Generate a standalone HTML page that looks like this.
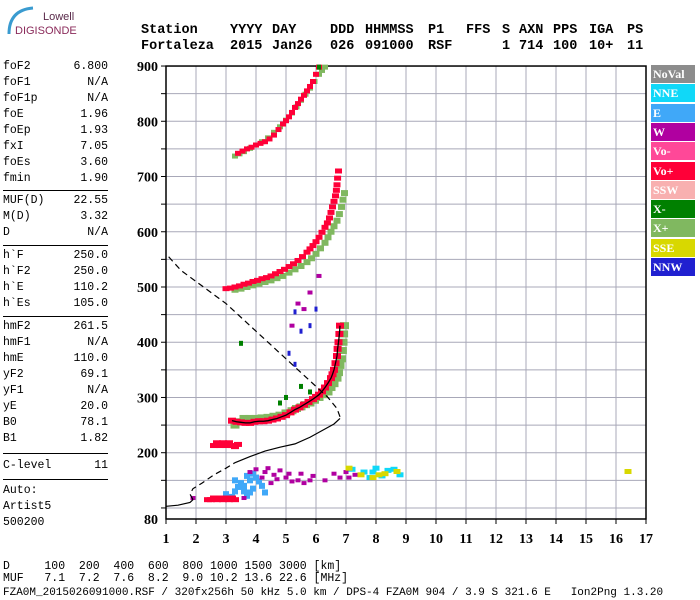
<!DOCTYPE html>
<html><head><meta charset="utf-8"><style>
body{margin:0;width:700px;height:600px;background:#fff;overflow:hidden;position:relative;font-family:"Liberation Mono",monospace}
.t{position:absolute;font-size:11.5px;color:#000;white-space:pre;line-height:12px}
.h{position:absolute;font-size:13.5px;font-weight:bold;white-space:pre;line-height:14px}
.v{position:absolute;font-size:11.5px;white-space:pre;right:592px;line-height:12px}
.r{position:absolute;left:3px;width:105px;height:1px;background:#000}
.lg{position:absolute;left:651px;width:44px;height:18px;color:#fff;font:bold 12px "Liberation Serif",serif;line-height:18px;padding-left:2px;box-sizing:border-box}
</style></head><body>
<div style="position:absolute;left:3px;top:4px;width:80px;height:34px">
<svg width="80" height="34"><path d="M6 30 Q6 6 30 4" stroke="#3a9bd0" stroke-width="3" fill="none"/><text x="40" y="16" font-family="Liberation Sans" font-size="11" fill="#5a2a4a">Lowell</text><text x="12" y="30" font-family="Liberation Sans" font-size="11" fill="#8a2a5a">DIGISONDE</text></svg></div>
<div>
<div class="h" style="left:141px;top:24px">Station</div><div class="h" style="left:230px;top:24px">YYYY</div><div class="h" style="left:272px;top:24px">DAY</div><div class="h" style="left:330px;top:24px">DDD</div><div class="h" style="left:365px;top:24px">HHMMSS</div><div class="h" style="left:428px;top:24px">P1</div><div class="h" style="left:466px;top:24px">FFS</div><div class="h" style="left:502px;top:24px">S</div><div class="h" style="left:519px;top:24px">AXN</div><div class="h" style="left:553px;top:24px">PPS</div><div class="h" style="left:589px;top:24px">IGA</div><div class="h" style="left:627px;top:24px">PS</div>
<div class="h" style="left:141px;top:40px">Fortaleza</div><div class="h" style="left:230px;top:40px">2015</div><div class="h" style="left:272px;top:40px">Jan26</div><div class="h" style="left:330px;top:40px">026</div><div class="h" style="left:365px;top:40px">091000</div><div class="h" style="left:428px;top:40px">RSF</div><div class="h" style="left:502px;top:40px">1</div><div class="h" style="left:519px;top:40px">714</div><div class="h" style="left:553px;top:40px">100</div><div class="h" style="left:589px;top:40px">10+</div><div class="h" style="left:627px;top:40px">11</div>
</div>
<div id="panel"></div>
<svg id="chart" width="700" height="600" style="position:absolute;left:0;top:0"></svg>
<div id="legend"></div>
<div class="t" style="left:3px;top:561px">D     100  200  400  600  800 1000 1500 3000 [km]</div>
<div class="t" style="left:3px;top:573px">MUF   7.1  7.2  7.6  8.2  9.0 10.2 13.6 22.6 [MHz]</div>
<div class="t" style="left:3px;top:587px;font-size:11px">FZA0M_2015026091000.RSF / 320fx256h 50 kHz 5.0 km / DPS-4 FZA0M 904 / 3.9 S 321.6 E   Ion2Png 1.3.20</div>
<script>
const paramNames=["foF2","foF1","foF1p","foE","foEp","fxI","foEs","fmin","|","MUF(D)","M(D)","D","|","h`F","h`F2","h`E","h`Es","|","hmF2","hmF1","hmE","yF2","yF1","yE","B0","B1","|","C-level","|","Auto:","Artist5","500200"];
const paramValues=["6.800","N/A","N/A","1.96","1.93","7.05","3.60","1.90","","22.55","3.32","N/A","","250.0","250.0","110.2","105.0","","261.5","N/A","110.0","69.1","N/A","20.0","78.1","1.82","","11","","","",""];
const dividerGaps=[6,7,7,11,9];
const panel=document.getElementById('panel');
let py=61, di=0;
paramNames.forEach((n,i)=>{
 if(n==="|"){const g=dividerGaps[di++];const d=document.createElement('div');d.className='r';d.style.top=(py+g/2-2)+'px';
 
 
 panel.appendChild(d);py+=g;return;}
 const l=document.createElement('div');l.className='t';l.style.left='3px';l.style.top=py+'px';l.textContent=n;
 
 
 panel.appendChild(l);
 if(paramValues[i]){const v=document.createElement('div');v.className='v';v.style.top=py+'px';v.textContent=paramValues[i];
 
 
 panel.appendChild(v);}
 py+=16;
});
const legNames=["NoVal","NNE","E","W","Vo-","Vo+","SSW","X-","X+","SSE","NNW"];
const legColors=["#8c8c8c","#10d8f8","#40a8f8","#b000a0","#ff4898","#ff0038","#f8b0b0","#008000","#80b860","#d8d800","#2020d0"];
const lg=document.getElementById('legend');
legNames.forEach((n,i)=>{const d=document.createElement('div');d.className='lg';d.style.top=(65+i*19.3)+'px';d.style.background=legColors[i];d.textContent=n;
 
 
 lg.appendChild(d);});

const xTicks=[1,2,3,4,5,6,7,8,9,10,11,12,13,14,15,16,17];
const yTickLabels=[80,200,300,400,500,600,700,800,900];
const oF1=[[3.2,258],[3.35,256],[3.5,255],[3.65,254],[3.8,254],[3.95,256],[4.1,257],[4.25,257],[4.4,258],[4.55,260],[4.7,262],[4.85,265],[5.0,268],[5.15,273],[5.3,278],[5.45,282],[5.6,287],[5.75,292],[5.9,297],[6.0,301],[6.1,305],[6.2,311],[6.3,318],[6.4,326],[6.5,335],[6.55,342],[6.6,350],[6.65,362],[6.7,375],[6.72,388],[6.75,400],[6.78,415],[6.8,430]];
const xF1=[[3.3,250],[3.45,256],[3.6,262],[3.8,262],[4.0,262],[4.2,263],[4.4,264],[4.6,266],[4.8,268],[5.0,272],[5.2,276],[5.35,280],[5.5,283],[5.65,287],[5.8,290],[5.95,295],[6.1,300],[6.25,305],[6.4,310],[6.5,318],[6.6,325],[6.7,335],[6.75,345],[6.8,358],[6.85,370],[6.88,385],[6.9,400],[6.92,415],[6.95,430]];
const oF2=[[3.0,497],[3.15,498],[3.3,500],[3.45,502],[3.6,505],[3.75,507],[3.9,510],[4.05,512],[4.2,515],[4.35,517],[4.5,520],[4.65,524],[4.8,528],[4.95,532],[5.1,537],[5.25,542],[5.4,548],[5.55,555],[5.7,563],[5.8,569],[5.9,575],[6.0,582],[6.1,590],[6.2,599],[6.3,608],[6.38,616],[6.45,625],[6.5,635],[6.55,645],[6.6,655],[6.65,665],[6.68,675],[6.7,685],[6.72,697],[6.75,710]];
const xF2=[[3.3,495],[3.5,497],[3.7,500],[3.9,503],[4.1,506],[4.3,509],[4.5,512],[4.7,516],[4.9,520],[5.1,526],[5.3,532],[5.5,538],[5.7,545],[5.85,552],[6.0,560],[6.15,570],[6.3,580],[6.4,590],[6.5,600],[6.6,610],[6.7,620],[6.78,632],[6.85,645],[6.9,658],[6.95,670]];
const oF3=[[3.4,742],[3.55,746],[3.7,750],[3.85,753],[4.0,757],[4.15,760],[4.3,763],[4.45,768],[4.6,775],[4.75,785],[4.9,795],[5.0,801],[5.1,808],[5.2,816],[5.3,825],[5.4,832],[5.5,840],[5.6,847],[5.7,855],[5.8,863],[5.9,872],[6.0,885],[6.1,898]];
const xF3=[[3.3,737],[3.45,741],[3.6,745],[3.8,751],[4.0,757],[4.2,763],[4.4,770],[4.6,780],[4.8,790],[5.0,802],[5.2,815],[5.35,826],[5.5,838],[5.65,849],[5.8,860],[5.95,872],[6.1,885],[6.2,892],[6.3,898]];
const esRed=[[2.6,213],[2.8,213],[3.0,213],[3.2,213],[3.4,215],[2.7,218],[3.1,218],[2.9,218],[3.3,211]];
const eRed=[[2.5,115],[2.7,115],[2.9,115],[3.1,115],[3.3,115],[2.6,118],[3.0,118],[2.8,118],[3.2,118],[2.4,115]];
const eBlue=[[3.0,125],[3.3,130],[3.6,130],[3.9,135],[4.2,140],[3.5,145],[3.8,150],[4.0,155],[3.2,120],[3.7,122],[4.3,128],[3.9,162],[3.4,138],[3.6,140],[3.8,128],[4.1,148],[3.3,150],[3.7,158]];
const wMag=[[4.0,170],[4.3,165],[4.6,160],[5.0,155],[5.4,150],[5.8,150],[4.5,145],[5.2,148],[4.8,168],[5.5,162],[6.3,150],[6.8,155],[3.6,118],[1.9,118],[7.3,160],[7.0,165],[5.4,470],[5.8,490],[6.1,520],[5.2,430],[5.6,460],[4.2,155],[4.7,152],[5.1,162],[5.6,145],[4.4,172],[3.8,165],[5.9,158],[6.6,162],[7.1,155]];
const nneCyan=[[7.2,170],[7.6,165],[8.0,172],[8.4,168],[8.8,160],[7.8,155],[8.2,158],[8.6,170],[7.9,165]];
const sseYel=[[7.5,160],[7.9,155],[8.3,162],[8.7,166],[7.1,172],[16.4,166],[8.1,160]];
const nnwBlue=[[5.3,360],[5.1,380],[5.5,420],[5.8,430],[6.0,460],[5.3,455]];
const xDark=[[5.0,300],[5.5,320],[5.8,310],[4.8,290],[6.1,898],[3.5,398]];
const profSolid1=[[1.0,103],[1.4,105],[1.8,110],[1.9,115]];
const profDash1=[[1.9,115],[1.8,125],[1.9,135],[2.2,145],[2.6,160],[3.0,172],[3.3,182]];
const profSolid2=[[3.3,182],[3.8,193],[4.3,203],[4.8,210],[5.3,216],[5.8,228],[6.2,240],[6.6,252],[6.8,262]];
const profDash2=[[6.8,265],[6.7,280],[6.4,300],[6.0,320],[5.5,345],[5.0,370],[4.5,395],[4.0,420],[3.5,445],[3.0,470],[2.5,490],[2.0,510],[1.5,530],[1.0,560]];

const X=f=>166+(f-1)*30;
const Y=h=>519-(h-80)*0.5524;
const svg=document.getElementById('chart');const NS='http://www.w3.org/2000/svg';
function el(t,a){const e=document.createElementNS(NS,t);for(const k in a)e.setAttribute(k,a[k]);svg.appendChild(e);return e;}
for(let h=100;h<=900;h+=50){const g=el('line',{x1:X(1),x2:X(17),y1:Y(h),y2:Y(h),stroke:'#a8a8b8','stroke-width':1});
 
 }
xTicks.forEach(f=>{const g=el('line',{x1:X(f),x2:X(f),y1:Y(80),y2:Y(900),stroke:'#a8a8b8','stroke-width':1});
 
 
 const tk=el('line',{x1:X(f),x2:X(f),y1:Y(80),y2:Y(80)+5,stroke:'#000'});
 
 
 const t=el('text',{x:X(f),y:543,'text-anchor':'middle','font-family':'Liberation Serif','font-weight':'bold','font-size':14});t.textContent=f;
 
 });
yTickLabels.forEach(h=>{const t=el('text',{x:158,y:Y(h)+5,'text-anchor':'end','font-family':'Liberation Serif','font-weight':'bold','font-size':14});t.textContent=h;
 
 });
for(let h=100;h<=900;h+=50){const tk=el('line',{x1:X(1)-5,x2:X(1),y1:Y(h),y2:Y(h),stroke:'#000'});
 
 }
const frame=el('rect',{x:X(1),y:Y(900),width:X(17)-X(1),height:Y(80)-Y(900),fill:'none',stroke:'#000','stroke-width':1.5});


function pts(arr,color,name,w,h){arr.forEach(p=>{const r=el('rect',{x:X(p[0])-w/2,y:Y(p[1])-h/2,width:w,height:h,fill:color});
 
 });}
pts(xF1,'#80b860','x-trace-f-point',9,7);
pts(oF1,'#ff0038','o-trace-f-point',8,6);
pts(xF2,'#80b860','x-trace-2f-point',7,6);
pts(oF2,'#ff0038','o-trace-2f-point',7,5);
pts(xF3,'#80b860','x-trace-3f-point',6,5);
pts(oF3,'#ff0038','o-trace-3f-point',6,5);
pts(esRed,'#ff0038','es-point',8,5);
pts(eBlue,'#40a8f8','e-dir-point',6,6);
pts(wMag,'#b000a0','w-dir-point',5,4);
pts(eRed,'#ff0038','e-layer-point',8,5);
pts(nneCyan,'#10d8f8','nne-point',7,5);
pts(sseYel,'#d8d800','sse-point',7,5);
pts(nnwBlue,'#2020d0','nnw-point',3,5);
pts(xDark,'#008000','x-minus-point',4,5);
function line(arr,dash,name,w){const l=el('polyline',{points:arr.map(p=>X(p[0])+','+Y(p[1])).join(' '),fill:'none',stroke:'#000','stroke-width':w||1.2,'stroke-dasharray':dash||'none'});
 
 }
line(oF1,null,'autoscaled-trace',1.3);
line(profSolid1,null,'profile-solid');
line(profDash1,'6,4','profile-dashed');
line(profSolid2,null,'profile-solid');
line(profDash2,'6,4','profile-dashed');
</script>
</body></html>
